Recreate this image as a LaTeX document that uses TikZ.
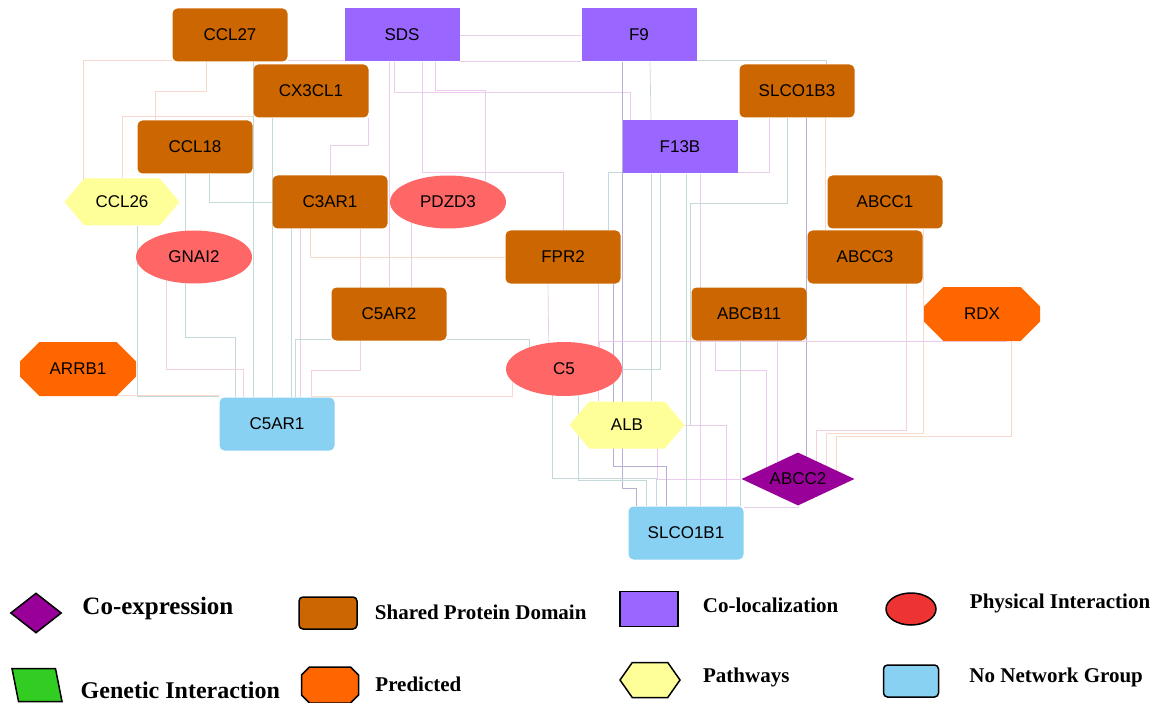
\documentclass[tikz,border=0pt]{standalone}
\usepackage{fontspec}
\setmainfont{Liberation Serif}
\setsansfont{Liberation Sans}
\usepackage{tikz}
\usetikzlibrary{calc,positioning,backgrounds,shapes.geometric,shapes.misc,shapes.symbols}

\definecolor{domain}{HTML}{CC6600}
\definecolor{coloc}{HTML}{9966FF}
\definecolor{phys}{HTML}{FF6666}
\definecolor{pred}{HTML}{FF6600}
\definecolor{pathw}{HTML}{FFFF99}
\definecolor{nonet}{HTML}{88D1F2}
\definecolor{coexp}{HTML}{990099}
\definecolor{genet}{HTML}{33CC22}
\definecolor{physl}{HTML}{EE3333}
\definecolor{lnteal}{HTML}{C4DADA}
\definecolor{lnpink}{HTML}{EACDEC}
\definecolor{lnpeach}{HTML}{F8DACB}
\definecolor{lnpurp}{HTML}{B8ADD2}
\definecolor{lnrose}{HTML}{F5D2DA}

\begin{document}
\begin{tikzpicture}[x=1pt, y=-1pt,
    gene/.style={font=\sffamily\fontsize{17}{17}\selectfont, inner sep=0pt, minimum width=115pt, minimum height=53pt},
    dom/.style={gene, rectangle, rounded corners=5pt, fill=domain},
    loc/.style={gene, rectangle, fill=coloc},
    phy/.style={gene, ellipse, fill=phys, minimum width=116pt},
    pwy/.style={gene, signal, signal to=west and east, signal pointer angle=100, fill=pathw, minimum height=47pt},
    prd/.style={gene, chamfered rectangle, chamfered rectangle xsep=32pt, chamfered rectangle ysep=13.5pt, fill=pred, minimum width=116pt, minimum height=54pt},
    coe/.style={gene, diamond, aspect=2, fill=coexp, minimum width=113pt},
    non/.style={gene, rectangle, rounded corners=5pt, fill=nonet},
    lteal/.style={draw=lnteal, line width=0.7pt},
    lpink/.style={draw=lnpink, line width=0.7pt},
    lpeach/.style={draw=lnpeach, line width=0.7pt},
    lpurp/.style={draw=lnpurp, line width=0.7pt},
    lrose/.style={draw=lnrose, line width=0.7pt},
    legshape/.style={draw=black, line width=1.5pt, inner sep=0pt},
    keytext/.style={font=\bfseries\fontsize{21}{21}\selectfont, inner sep=0pt, anchor=west}]
  \useasboundingbox (0,0) rectangle (1158,703);

  % genes
  \node [dom] (ccl27) at (230,35) {CCL27};
  \node [loc] (sds) at (402,35) {SDS};
  \node [loc] (f9) at (639,35) {F9};
  \node [dom] (cx3cl1) at (311,91) {CX3CL1};
  \node [dom] (slco1b3) at (797,91) {SLCO1B3};
  \node [dom] (ccl18) at (195,147) {CCL18};
  \node [loc] (f13b) at (680,147) {F13B};
  \node [pwy] (ccl26) at (122,202) {CCL26};
  \node [dom] (c3ar1) at (330,202) {C3AR1};
  \node [phy] (pdzd3) at (448,202) {PDZD3};
  \node [dom] (abcc1) at (885,202) {ABCC1};
  \node [phy] (gnai2) at (194,257) {GNAI2};
  \node [dom] (fpr2) at (563,257) {FPR2};
  \node [dom] (abcc3) at (865,257) {ABCC3};
  \node [dom] (c5ar2) at (389,314) {C5AR2};
  \node [dom] (abcb11) at (749,314) {ABCB11};
  \node [prd] (rdx) at (982,314) {RDX};
  \node [prd] (arrb1) at (78,369) {ARRB1};
  \node [phy, minimum height=54pt] (c5) at (564,369) {C5};
  \node [non] (c5ar1) at (277,424) {C5AR1};
  \node [pwy] (alb) at (627,425) {ALB};
  \node [coe] (abcc2) at (798,479) {ABCC2};
  \node [non] (slco1b1) at (686,533) {SLCO1B1};

  % links
  \begin{scope}[on background layer]
    \draw[lpink] (sds) -- (f9);
    \draw[lpink] (sds.south east) -- (f9.south west);
    \draw[lpink] ([yshift=1pt]ccl27.south east) -- ([yshift=1pt]sds.south west);
    \draw[lpeach] ([yshift=1pt]ccl27.south west) -| ([xshift=-39pt]ccl26.center);
    \draw[lpeach] ([xshift=-24pt]ccl27.south) |- ([xshift=-40pt,yshift=29pt]ccl18.north) -- ([xshift=-40pt]ccl18.north);
    \draw[lpeach] ([yshift=1pt]cx3cl1.south west) -| (ccl26);
    \draw[lteal] ([xshift=23pt]ccl27.south) -- ([xshift=-24pt]c5ar1.north);
    \draw[lteal] ([xshift=-39pt]cx3cl1.south) -- ([xshift=-5pt]c5ar1.north);
    \draw[lpink] ([xshift=57pt]cx3cl1.south) |- ([yshift=30pt]c3ar1.north) -- (c3ar1.north);
    \draw[lpink] ([xshift=-13pt]sds.south) -- (c5ar2.north);
    \draw[lpink] ([xshift=33pt]sds.south) |- ([xshift=37pt,yshift=85pt]pdzd3.north) -- ([xshift=37pt]pdzd3.center);
    \draw[lpink] ([xshift=-8pt]sds.south) |- ([xshift=-50pt,yshift=28pt]f13b.north) -- ([xshift=-50pt]f13b.north);
    \draw[lpink] ([xshift=20pt]sds.south) |- ([yshift=58pt]fpr2.north) -- (fpr2.north);
    \draw[lteal] ([xshift=11pt]f9.south) -- ([xshift=-29pt]f13b.north);
    \draw[lpurp] ([xshift=-17pt]f9.south) |- ([xshift=-50pt,yshift=18pt]slco1b1.north) -- ([xshift=-50pt]slco1b1.north);
    \draw[lteal] ([yshift=1pt]f9.south east) -| ([xshift=29pt]slco1b3.north);
    \draw[lpink] ([xshift=-28pt]slco1b3.south) |- ([yshift=1pt]f13b.south east);
    \draw[lteal] ([xshift=-10pt]slco1b3.south) |- ([xshift=6pt,yshift=222pt]alb.east) |- (alb.east);
    \draw[lpurp] ([xshift=9pt]slco1b3.south) -- ([xshift=8pt]abcc2.center);
    \draw[lpeach] ([xshift=28pt]slco1b3.south) -- ([xshift=-40pt]abcc3.north);
    \draw[lrose] ([xshift=41pt]abcc3.south) |- ([xshift=18pt,yshift=49pt]abcc2.center) -- ([xshift=18pt]abcc2.center);
    \draw[lpeach] ([xshift=38pt]abcc1.south) |- ([xshift=28pt,yshift=46pt]abcc2.center) -- ([xshift=28pt]abcc2.center);
    \draw[lpeach] ([xshift=29pt]rdx.south) |- ([xshift=38pt,yshift=43pt]abcc2.center) -- ([xshift=38pt]abcc2.center);
    \draw[lteal] ([xshift=-9pt]abcb11.south) -- ([xshift=54pt]slco1b1.north);
    \draw[lpink] ([xshift=-34pt]abcb11.south) |- ([xshift=-32pt,yshift=109pt]abcc2.center) -- ([xshift=-32pt]abcc2.center);
    \draw[lpink] ([xshift=28pt]abcb11.south) -- ([xshift=-21pt]abcc2.center);
    \draw[lpink] ([xshift=30pt]alb.south) |- (abcc2);
    \draw[lpink] (alb.east) -| ([xshift=40pt]slco1b1.north);
    \draw[lteal] ([xshift=14pt]c5.center) |- ([xshift=-40pt,yshift=26pt]slco1b1.north) -- ([xshift=-40pt]slco1b1.north);
    \draw[lteal] ([xshift=-12pt]c5.center) |- ([xshift=-30pt,yshift=28pt]slco1b1.north) -- ([xshift=-30pt]slco1b1.north);
    \draw[lpurp] ([xshift=50pt]fpr2.south) |- ([xshift=-20pt,yshift=40pt]slco1b1.north) -- ([xshift=-20pt]slco1b1.north);
    \draw[lteal] ([xshift=6pt]f13b.south) -- (slco1b1.north);
    \draw[lpink] ([xshift=20pt]f13b.south) -- ([xshift=14pt]slco1b1.north);
    \draw[lteal] ([yshift=-25pt]f13b.west) -| ([xshift=45pt]fpr2.north);
    \draw[lteal] ([xshift=-20pt]f13b.south) |- (c5);
    \draw[lteal] ([xshift=-29pt]f13b.south) -- ([xshift=24pt]alb.north);
    \draw[lteal] ([xshift=-10pt]ccl18.south) |- ([xshift=-42pt,yshift=60pt]c5ar1.north) -- ([xshift=-42pt]c5ar1.north);
    \draw[lteal] ([xshift=14pt]ccl18.south) |- (c3ar1.west);
    \draw[lteal] ([xshift=15pt]ccl26.south) |- ([yshift=1pt]c5ar1.north west);
    \draw[lrose] ([xshift=-28pt]gnai2.center) |- ([xshift=-34pt,yshift=28pt]c5ar1.north) -- ([xshift=-34pt]c5ar1.north);
    \draw[lpeach] (arrb1.south) |- ([yshift=2pt]c5ar1.north west);
    \draw[lteal] ([xshift=-39pt]c3ar1.south) -- ([xshift=14pt]c5ar1.north);
    \draw[lpink] ([xshift=-30pt]c3ar1.south) -- ([xshift=23pt]c5ar1.north);
    \draw[lrose] ([xshift=30pt]c3ar1.south) |- ([xshift=34pt,yshift=27pt]c5ar1.north) -- ([xshift=34pt]c5ar1.north);
    \draw[lpeach] ([xshift=-52pt]c5.center) |- ([xshift=34pt,yshift=1pt]c5ar1.north);
    \draw[lteal] ([yshift=1pt]c5ar2.south west) -| ([xshift=18pt]c5ar1.north);
    \draw[lteal] ([yshift=1pt]c5ar2.south east) -| ([xshift=-35pt]c5.center);
    \draw[lpink] ([xshift=-37pt]pdzd3.center) -- ([xshift=22pt]c5ar2.north);
    \draw[lpeach] ([xshift=-20pt]c3ar1.center) |- (fpr2.west);
    \draw[lpink] ([xshift=-15pt]fpr2.south) -- ([xshift=-15pt]c5.center);
    \draw[lpink] ([xshift=35pt]fpr2.south) -- ([xshift=-29pt]alb.north);
    \draw[lpink] ([xshift=35pt]c5.center) |- ([xshift=25pt]rdx.south);
    \draw[lpink] (abcc2.south) |- ([yshift=-1pt]slco1b1.north east);
  \end{scope}

  % legend
  \node [legshape, diamond, fill=coexp, minimum width=51pt, minimum height=40pt] (kcoe) at (36,613) {};
  \node [legshape, rectangle, rounded corners=4pt, fill=domain, minimum width=58pt, minimum height=32pt] (kdom) at (328,613) {};
  \node [legshape, rectangle, fill=coloc, minimum width=58pt, minimum height=35pt] (kloc) at (649,609) {};
  \node [legshape, ellipse, fill=physl, minimum width=50pt, minimum height=32pt] (kphy) at (911,609) {};
  \node [legshape, trapezium, trapezium left angle=100, trapezium right angle=80, trapezium stretches=true, inner sep=4pt, fill=genet, minimum width=50pt, minimum height=33pt] (kgen) at (37,685) {};
  \node [legshape, chamfered rectangle, chamfered rectangle xsep=11pt, chamfered rectangle ysep=9pt, inner sep=4pt, fill=pred, minimum width=57pt, minimum height=36pt] (kprd) at (330,685) {};
  \node [legshape, signal, signal to=west and east, signal pointer angle=110, fill=pathw, minimum width=60pt, minimum height=35pt] (kpwy) at (650,680) {};
  \node [legshape, rectangle, rounded corners=4pt, fill=nonet, minimum width=55pt, minimum height=32pt] (knon) at (911,681) {};

  \node [keytext, right=20pt of kcoe, yshift=5pt, font=\bfseries\fontsize{25}{25}\selectfont] (tcoe) {Co-expression};
  \node [keytext, right=17pt of kdom, yshift=1pt] (tdom) {Shared Protein Domain};
  \node [keytext, right=24pt of kloc, yshift=4pt] (tloc) {Co-localization};
  \node [keytext, right=33pt of kphy, yshift=6pt] (tphy) {Physical Interaction};
  \node [keytext, right=21pt of kgen, yshift=-5pt, font=\bfseries\fontsize{24}{24}\selectfont] (tgen) {Genetic Interaction};
  \node [keytext, right=16pt of kprd, yshift=1pt] (tprd) {Predicted};
  \node [keytext, right=22pt of kpwy, yshift=3pt] (tpwy) {Pathways};
  \node [keytext, right=30pt of knon, yshift=4pt] (tnon) {No Network Group};
\end{tikzpicture}
\end{document}
